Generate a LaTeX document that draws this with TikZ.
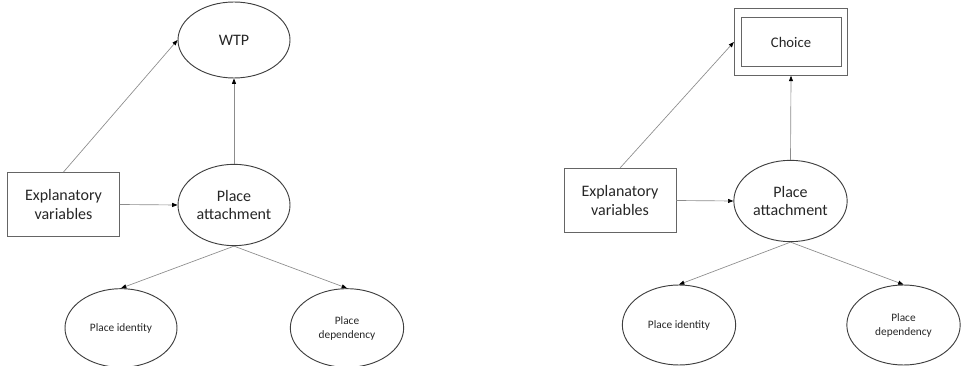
\documentclass[tikz,border=0pt]{standalone}
\usepackage{fontspec}
\setmainfont{Carlito}
\usetikzlibrary{shapes.geometric, arrows.meta, positioning}
\definecolor{lineG}{HTML}{3F3F3F}
\definecolor{arrG}{HTML}{8C8C8C}
\definecolor{textG}{HTML}{262626}

\begin{document}
\begin{tikzpicture}[
  x=0.75pt, y=-0.75pt,
  oval/.style={
    ellipse, draw=lineG, line width=0.7pt,
    minimum width=#1, inner sep=0pt,
    font=\fontsize{12}{13.5}\selectfont, text=textG, align=center
  },
  smalloval/.style={
    oval=#1, font=\fontsize{8.5}{10.5}\selectfont
  },
  varbox/.style={
    rectangle, draw=lineG!80, line width=0.7pt,
    minimum width=84pt, minimum height=48pt,
    font=\fontsize{12}{14}\selectfont, text=textG, align=center
  },
  arr/.style={-{Triangle[length=4pt, width=3pt, color=black]}, arrG, line width=0.5pt},
]
\useasboundingbox (0,0) rectangle (962,366);

%% ═══ LEFT MODEL — WTP ═══
\node[oval=84pt, minimum height=57pt] (wtpA) at (234,40) {WTP};
\node[varbox] (explA) at (63.5,204.5) {Explanatory\\variables};
\node[oval=84pt, minimum height=61pt] (attA) at (234,205) {Place\\attachment};
\node[smalloval=84pt, minimum height=59pt] (identA) at (121,328) {Place identity};
\node[smalloval=85pt, minimum height=59pt] (depA) at (347,328) {Place\\dependency};

\draw[arr] (explA.north) -- (wtpA.west);
\draw[arr] (explA.east) -- (attA.west);
\draw[arr] (attA.north) -- (wtpA.south);
\draw[arr] (attA.south) -- (identA.north);
\draw[arr] (attA.south) -- (depA.north);

%% ═══ RIGHT MODEL — CHOICE ═══
\node[varbox, minimum width=85pt, minimum height=50pt] (choiceB) at (791,42) {};
\node[varbox, minimum width=75pt, minimum height=37pt, font=\fontsize{11}{13}\selectfont] (choiceIn) at (choiceB.center) {Choice};
\node[varbox] (explB) at (620,200.5) {Explanatory\\variables};
\node[oval=85pt, minimum height=61pt] (attB) at (790.5,201) {Place\\attachment};
\node[smalloval=85pt, minimum height=60pt] (identB) at (679,325) {Place identity};
\node[smalloval=85pt, minimum height=60pt] (depB) at (903.5,325) {Place\\dependency};

\draw[arr] (explB.north) -- (choiceB.west);
\draw[arr] (explB.east) -- (attB.west);
\draw[arr] (attB.north) -- (choiceB.south);
\draw[arr] (attB.south) -- (identB.north);
\draw[arr] (attB.south) -- (depB.north);

\end{tikzpicture}
\end{document}
